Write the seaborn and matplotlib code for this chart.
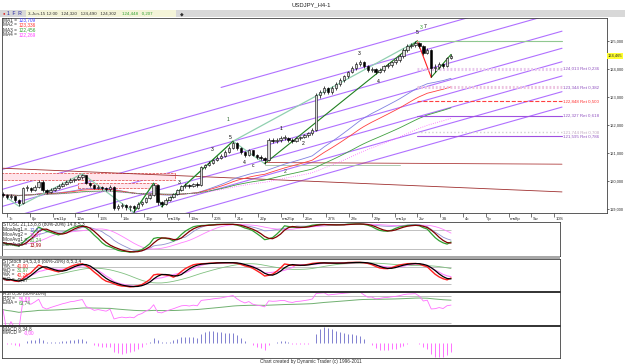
import numpy as np
import pandas as pd
import matplotlib
matplotlib.use('Agg')
import matplotlib.pyplot as plt
import seaborn as sns
from matplotlib.patches import Rectangle

# USDJPY H4 bars
first_open = 119.55
closes = [119.50, 119.43, 119.45, 119.32, 119.22, 119.75, 119.75, 119.68, 119.79, 119.96,
          119.68, 119.60, 119.68, 119.75, 119.82, 119.90, 119.96, 120.04, 120.07, 120.14,
          120.20, 119.93, 119.86, 119.75, 119.79, 119.75, 119.71, 119.80, 119.04, 119.10,
          119.14, 119.07, 119.10, 119.04, 119.18, 119.25, 119.39, 119.50, 119.86, 119.25,
          119.18, 119.32, 119.43, 119.54, 119.68, 119.82, 119.86, 119.82, 119.90, 119.86,
          120.50, 120.57, 120.64, 120.75, 120.82, 120.89, 121.04, 121.18, 121.36, 121.18,
          121.04, 120.93, 121.10, 120.93, 120.86, 120.82, 120.75, 121.46, 121.43, 121.46,
          121.54, 121.54, 121.46, 121.43, 121.54, 121.57, 121.64, 121.71, 121.82, 123.07,
          123.18, 123.32, 123.18, 123.32, 123.46, 123.60, 123.75, 123.89, 124.04, 124.18,
          124.25, 124.10, 123.96, 124.00, 123.89, 123.96, 124.10, 124.14, 124.25, 124.32,
          124.46, 124.68, 124.82, 124.86, 124.93, 124.82, 124.57, 124.68, 124.04, 124.07,
          124.18, 124.10, 124.39, 124.46]
highs = [119.62, 119.55, 119.52, 119.48, 119.35, 119.80, 119.85, 119.80, 119.86, 120.02,
         120.05, 119.72, 119.74, 119.80, 119.88, 119.95, 120.02, 120.09, 120.12, 120.20,
         120.26, 120.22, 119.98, 119.90, 119.84, 119.83, 119.80, 119.86, 119.82, 119.18,
         119.22, 119.18, 119.16, 119.14, 119.24, 119.30, 119.44, 119.55, 119.92, 119.88,
         119.30, 119.38, 119.48, 119.58, 119.72, 119.86, 119.92, 119.90, 119.94, 119.95,
         120.55, 120.62, 120.70, 120.80, 120.88, 120.95, 121.10, 121.24, 121.42, 121.40,
         121.22, 121.08, 121.15, 121.12, 120.98, 120.92, 120.86, 121.52, 121.52, 121.52,
         121.60, 121.64, 121.58, 121.52, 121.58, 121.62, 121.68, 121.76, 121.88, 123.14,
         123.26, 123.40, 123.36, 123.38, 123.52, 123.66, 123.80, 123.94, 124.10, 124.24,
         124.32, 124.28, 124.14, 124.06, 124.04, 124.02, 124.14, 124.20, 124.30, 124.38,
         124.52, 124.74, 124.88, 124.92, 125.00, 124.98, 124.86, 124.74, 124.72, 124.16,
         124.24, 124.22, 124.44, 124.52]
lows = [119.42, 119.36, 119.35, 119.25, 119.10, 119.18, 119.66, 119.62, 119.64, 119.76,
        119.62, 119.52, 119.56, 119.64, 119.72, 119.78, 119.86, 119.92, 119.98, 120.02,
        120.08, 119.88, 119.80, 119.70, 119.70, 119.68, 119.64, 119.66, 118.98, 118.98,
        119.02, 118.96, 118.92, 118.88, 119.00, 119.12, 119.20, 119.34, 119.46, 119.16,
        119.08, 119.14, 119.28, 119.40, 119.50, 119.64, 119.76, 119.74, 119.78, 119.80,
        119.82, 120.44, 120.52, 120.60, 120.70, 120.78, 120.84, 121.00, 121.14, 121.12,
        120.98, 120.86, 120.90, 120.88, 120.80, 120.74, 120.62, 120.70, 121.36, 121.36,
        121.40, 121.46, 121.40, 121.36, 121.40, 121.48, 121.52, 121.58, 121.66, 121.78,
        122.96, 123.10, 123.10, 123.12, 123.26, 123.40, 123.54, 123.68, 123.84, 123.98,
        124.10, 124.02, 123.90, 123.88, 123.82, 123.84, 123.90, 124.04, 124.08, 124.18,
        124.26, 124.40, 124.62, 124.76, 124.80, 124.74, 124.50, 124.52, 123.70, 123.90,
        124.00, 124.02, 124.06, 124.34]

date_labels = ['7c', '8p', 'ma11p', '12w', '13S', '14c', '15p', 'ma18p', '19w', '20S',
               '21c', '22p', 'ma25p', '26w', '27S', '28c', '29p', 'ma1p', '2w', '3S',
               '4c', '5p', 'ma8p', '9w', '10S']
price_ticks = [119, 120, 121, 122, 123, 124, 125]
price_tick_labels = ['119,000', '120,000', '121,000', '122,000', '123,000', '124,000', '125,000']

# parallel channel lines: price at bar 0 and first bar drawn
channel_base = [121.14, 120.42, 119.71, 119.10, 118.62, 118.11, 117.55, 117.00]
channel_start = [55, -1, -1, -1, -1, -1, -1, -1]
channel_slope = 0.04

fib_levels = [124.013, 123.344, 122.848, 122.327, 121.744, 121.595]
fib_labels = ['124,013 Ret 0,236', '123,344 Ret 0,382', '122,848 Ret 0,500',
              '122,327 Ret 0,618', '121,744 Ret 0,708', '121,595 Ret 0,786']
fib_colors = ['#e8c8ec', '#ecc4e0', '#ff4040', '#a050e0', '#d0d0d0', '#a050e0']
fib_text_colors = ['#9050c0', '#9050c0', '#ff3030', '#9050c0', '#c0a8c0', '#9050c0']
fib_styles = [(0, (0.6, 0.6)), (0, (0.6, 0.6)), '--', '-', ':', '-']
fib_widths = [2.2, 2.2, 0.8, 0.8, 1.0, 0.8]

swing_light_x = [1, 4, 20, 33, 38, 40, 58, 66]
swing_light_y = [119.40, 119.10, 120.26, 118.88, 119.92, 119.08, 121.42, 120.62]
swing_dark = [((33, 118.88), (38, 119.92)), ((40, 119.08), (58, 121.42)),
              ((66, 120.62), (104.5, 125.0)), ((108, 123.70), (113, 124.52))]

ma_values = ['123,709', '123,336', '122,456', '122,269']
ma_spans = [40, 50, 80, 100]
ma_colors = ['#8080e0', '#ff4040', '#40a040', '#ff60ff']
ma_styles = ['-', '-', '-', ':']

# ------------------------------------------------------------------
W, H = 625, 364
S = 3.965

sns.set_theme(style='white')
plt.rcParams['font.family'] = ['Liberation Sans', 'DejaVu Sans']

fig = plt.figure(figsize=(6.25, 3.64), dpi=100)
fig.patch.set_facecolor('white')


def px_axes(x0, y0, x1, y1):
    a = fig.add_axes([x0 / W, 1 - y1 / H, (x1 - x0) / W, (y1 - y0) / H])
    a.set_facecolor('white')
    for sp in a.spines.values():
        sp.set_color('#404040')
        sp.set_linewidth(0.6)
    a.set_xticks([])
    a.set_yticks([])
    return a


def bar_x(px):
    return (px - 3) / S


def ftext(x, y, s, **kw):
    kw.setdefault('fontsize', 3.4)
    kw.setdefault('va', 'center')
    fig.text(x / W, 1 - y / H, s, **kw)


def label_pair(x, y, name, val, xval, col):
    ftext(x, y, name, color='#303030')
    ftext(xval, y, val, color=col)


df = pd.DataFrame({'high': highs, 'low': lows, 'close': closes})
df['open'] = [first_open] + closes[:-1]
idx = np.arange(len(df))
n_last = idx[-1]

# ---------------- main price panel ----------------
ax = px_axes(2, 18, 607, 213)
ax.set_xlim(bar_x(2), bar_x(607))
ax.set_ylim(118.857, 125.82)

xs_end = bar_x(562)
for base, start in zip(channel_base, channel_start):
    xx = np.array([start, xs_end])
    ax.plot(xx, base + channel_slope * xx, color='#b070ff', lw=0.8, zorder=1)

# red zone boxes on the left
ax.add_patch(Rectangle((bar_x(0), 120.04), bar_x(175) - bar_x(0), 0.25,
                       facecolor='#ffe4ea', edgecolor='#e04040', ls='--', lw=0.5, zorder=1))
ax.add_patch(Rectangle((bar_x(78), 119.75), bar_x(157) - bar_x(78), 0.18,
                       facecolor='#ffe8ee', edgecolor='#e04040', ls='--', lw=0.5, zorder=1))
ax.plot([bar_x(0), xs_end], [120.46, 119.61], color='#a03030', lw=0.6, zorder=1)
ax.plot([66, xs_end], [120.66, 120.60], color='#b04040', lw=0.6, zorder=1)
ax.plot([66, 100], [120.57, 120.57], color='#a0c0a0', lw=0.6, zorder=1)

for span, col, ls in zip(ma_spans, ma_colors, ma_styles):
    ema = df['close'].ewm(span=span, adjust=False).mean()
    sns.lineplot(x=idx, y=ema.values, ax=ax, color=col, lw=0.6, linestyle=ls, zorder=2)

ax.plot(swing_light_x, swing_light_y, color='#90d0b0', lw=0.9, zorder=2)
ax.plot([58, 104.5], [121.42, 125.0], color='#90d0b0', lw=0.9, zorder=2)
for (a0, a1) in swing_dark:
    ax.plot([a0[0], a1[0]], [a0[1], a1[1]], color='#208020', lw=0.8, zorder=2)
ax.plot([104.5, 108], [125.0, 123.70], color='#ff2020', lw=0.8, zorder=2)
ax.plot([104.5, xs_end], [125.0, 125.0], color='#90c890', lw=0.8, zorder=2)

for lvl, lab, col, tcol, ls, lw in zip(fib_levels, fib_labels, fib_colors, fib_text_colors,
                                       fib_styles, fib_widths):
    ax.plot([104.5, xs_end], [lvl, lvl], color=col, ls=ls, lw=lw, zorder=2)
    ax.text(bar_x(563), lvl, lab, fontsize=3.2, va='center', ha='left', color=tcol)

# candles
bull = df['close'] >= df['open']
body_lo = np.minimum(df['open'], df['close'])
body_h = np.maximum((df['close'] - df['open']).abs(), 0.02)
ax.vlines(idx, df['low'], df['high'], color='black', lw=0.5, zorder=3)
ax.bar(idx, body_h, bottom=body_lo, width=0.62,
       color=np.where(bull, '#d8d8d8', '#000000'), edgecolor='black', linewidth=0.4, zorder=4)

# wave labels
for xp, yp, s, c in [(228, 120, '1', '#206020'), (285, 172, '2', '#206020'),
                     (359, 54, '3', '#000000'), (378, 82, '4', '#000000'),
                     (417, 33, '5', '#000000'), (421, 28, '3', '#30a030'),
                     (425, 27, '7', '#000000'), (212, 150, '3', '#000000'),
                     (230, 138, '5', '#000000'), (244, 163, '4', '#000000'),
                     (253, 166, 'c', '#000000'), (281, 129, '1', '#000000'),
                     (303, 144, '2', '#000000'), (179, 183, '3', '#000000')]:
    ax.text(bar_x(xp), 125 - (yp - 41) / 28, s, fontsize=3.6, color=c,
            ha='center', va='center', zorder=5)

ax.yaxis.tick_right()
ax.set_yticks(price_ticks)
ax.set_yticklabels(price_tick_labels)
ax.tick_params(axis='y', right=True, length=1.5, width=0.5, pad=0.6, labelsize=2.9,
               colors='#303030')
ax.text(1.0015, 124.465, '124,465', transform=ax.get_yaxis_transform(), fontsize=2.9,
        va='center', ha='left', bbox=dict(boxstyle='square,pad=0.15', fc='#ffff30', ec='none'))

# ---------------- date strip ----------------
axd = px_axes(2, 213, 560, 222)
axd.set_xlim(bar_x(2), bar_x(560))
axd.set_ylim(0, 1)
for sp in ['left', 'right', 'bottom']:
    axd.spines[sp].set_visible(False)
tick_pos = [bar_x(7 + 22.8 * k) for k in range(len(date_labels))]
axd.vlines(tick_pos, 0.55, 1.0, color='#404040', lw=0.5)
for tp, lab in zip(tick_pos, date_labels):
    axd.text(tp + 0.4, 0.35, lab, fontsize=3.2, va='center', ha='left', color='#303030')


def stoch(n, smooth):
    ll = df['low'].rolling(n, min_periods=1).min()
    hh = df['high'].rolling(n, min_periods=1).max()
    k = 100 * (df['close'] - ll) / (hh - ll)
    return k.rolling(smooth, min_periods=1).mean()


def osc_panel(y0, y1, ylim, levels):
    a = px_axes(2, y0, 560, y1)
    a.set_xlim(bar_x(2), bar_x(560))
    a.set_ylim(*ylim)
    a.hlines(levels, 0, n_last, color='#c0c0c0', lw=0.7)
    return a


# ---------------- STOSC panel ----------------
ax1 = osc_panel(222, 256, (-2, 104), [20, 80])
slow = stoch(21, 8)
slow_avg = slow.rolling(8, min_periods=1).mean()
fast = stoch(14, 5)
fast_avg = fast.rolling(3, min_periods=1).mean()
sns.lineplot(x=idx, y=slow.values, ax=ax1, color='#9090d0', lw=0.6)
sns.lineplot(x=idx, y=slow_avg.values, ax=ax1, color='#ff80ff', lw=0.6)
sns.lineplot(x=idx, y=fast.values, ax=ax1, color='#30a030', lw=0.9)
sns.lineplot(x=idx, y=fast_avg.values, ax=ax1, color='#800000', lw=0.9)
ftext(3, 224.5, 'STOSC 21,13,8,8 (80%-20%) 14,8,5,3', color='#303030')
for k, (nm, val, col) in enumerate([('MovAvg1 =', '12,53', '#6060d0'),
                                    ('MovAvg2 =', '29,37', '#ff40ff'),
                                    ('MovAvg1 =', '21,24', '#30a030'),
                                    ('MovAvg2 =', '13,99', '#a00000')]):
    label_pair(3, 229.5 + 5 * k, nm, val, 30, col)

fig.patches.append(Rectangle((0, 1 - 259 / H), 560 / W, 3 / H, transform=fig.transFigure,
                             facecolor='#a8a8a8', edgecolor='none', hatch='....'))

# ---------------- STStoch panel ----------------
ax2 = osc_panel(259, 291, (-5, 110), [20, 80])
k_fast = stoch(14, 5)
d_fast = k_fast.rolling(3, min_periods=1).mean()
k_slow = stoch(14, 8)
d_slow = k_slow.rolling(13, min_periods=1).mean()
sns.lineplot(x=idx, y=d_slow.values, ax=ax2, color='#80c080', lw=0.6)
sns.lineplot(x=idx, y=k_slow.values, ax=ax2, color='#ff80ff', lw=0.8)
sns.lineplot(x=idx, y=k_fast.values, ax=ax2, color='#ff2020', lw=1.0)
sns.lineplot(x=idx, y=d_fast.values, ax=ax2, color='#000000', lw=0.9)
ftext(3, 261, 'STStoch 14,5,3,8 (80%-20%) 8,5,3,4', color='#303030')
for k, (nm, val, col) in enumerate([('%K =', '41,00', '#ff2020'), ('%D =', '31,97', '#40a040'),
                                    ('%K =', '40,24', '#ff2020'), ('%D =', '40,07', '#404040')]):
    label_pair(3, 265.5 + 4.7 * k, nm, val, 17, col)

# ---------------- RSI panel ----------------
ax3 = osc_panel(292, 325, (16, 89), [20, 80])
diff = df['close'].diff().fillna(0)
gain = diff.clip(lower=0).ewm(alpha=1 / 14, adjust=False).mean()
loss = (-diff.clip(upper=0)).ewm(alpha=1 / 14, adjust=False).mean()
rsi = (100 * gain / (gain + loss)).fillna(50)
rsi_ema = rsi.ewm(span=50, adjust=False).mean()
sns.lineplot(x=idx, y=rsi_ema.values, ax=ax3, color='#70b070', lw=0.7)
sns.lineplot(x=idx, y=rsi.values, ax=ax3, color='#ff70ff', lw=0.6)
ftext(3, 294, 'RSI 8,50 (80%-20%)', color='#303030')
label_pair(3, 298.5, 'RSI =', '56,88', 19, '#ff40ff')
label_pair(3, 303, 'EMA =', '63,74', 19, '#40a040')

# ---------------- MACD panel ----------------
ax4 = px_axes(2, 326, 560, 358)
ax4.set_xlim(bar_x(2), bar_x(560))
macd = df['close'].ewm(span=8, adjust=False).mean() - df['close'].ewm(span=34, adjust=False).mean()
hist = macd - macd.ewm(span=8, adjust=False).mean()
m = np.percentile(hist.abs(), 95)
ax4.set_ylim(-m * 1.1, m * 1.3)
ax4.vlines(idx, 0, hist, colors=np.where(hist >= 0, '#8080d0', '#ff70ff'), lw=0.7)
ftext(3, 328.5, 'MACD 8,34,8', color='#303030')
label_pair(3, 333, 'MACD =', '-0,00', 24, '#ff40ff')

# separators
for yy, lw in [(291.5, 1.2), (325.5, 1.2)]:
    fig.lines.append(plt.Line2D([0, 560 / W], [1 - yy / H] * 2, transform=fig.transFigure,
                                color='#303030', lw=lw))

# ---------------- header / footer ----------------
fig.patches.append(Rectangle((0, 1 - 17 / H), 1, 7 / H, transform=fig.transFigure,
                             facecolor='#d8d8d8', edgecolor='none', hatch='....'))
fig.patches.append(Rectangle((26 / W, 1 - 16.5 / H), 150 / W, 6 / H, transform=fig.transFigure,
                             facecolor='#f4f4d8', edgecolor='none'))
ftext(311, 5, 'USDJPY_H4-1', fontsize=4.2, ha='center', color='#202020')
ftext(3, 13.5, '●', fontsize=3, color='#e02020')
ftext(7, 13.5, '1  F  R', fontsize=3.6, color='#2020a0')
ftext(28, 13.5, '3-Jun-15 12:00   124,320   124,490   124,302', fontsize=3.2, color='#303030')
ftext(122, 13.5, '124,448   0,207', fontsize=3.2, color='#30a030')
ftext(180, 13.5, '◆', fontsize=3.4, color='#303030')

for k, (nm, val, col) in enumerate(zip(['MA1 =', 'MA2 =', 'MA3 =', 'MA4 ='], ma_values,
                                       ['#4040ff', '#ff3030', '#30a030', '#ff40ff'])):
    label_pair(3, 20 + 5 * k, nm, val, 19, col)

ftext(311, 361, 'Chart created by Dynamic Trader (c) 1996-2011', fontsize=3.4,
      ha='center', color='#303030')

fig.savefig('out.png', dpi=100, facecolor='white')
